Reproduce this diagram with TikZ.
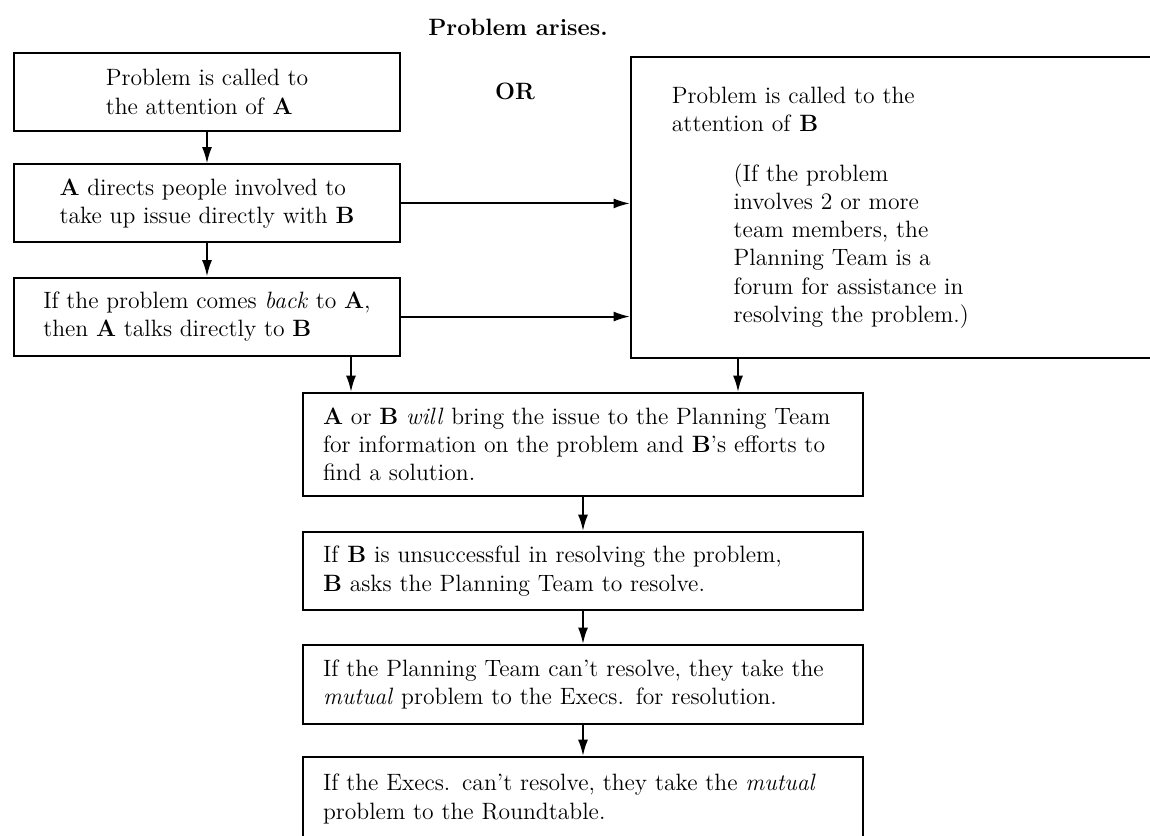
\documentclass[tikz,border=0pt]{standalone}
\usetikzlibrary{arrows.meta}

\begin{document}
\begin{tikzpicture}[x=0.55pt, y=-0.55pt, line width=1.1pt,
    >={Latex[length=9pt, width=5.5pt]},
    font=\fontsize{13}{15.5}\selectfont,
    leftbox/.style={draw, rectangle, align=left, minimum width=212.3pt, minimum height=42.9pt, inner sep=0pt},
    lowbox/.style={draw, rectangle, align=left, text width=286pt, inner xsep=11pt, minimum width=308pt}]

    \useasboundingbox (0,0) rectangle (1150,836);
    \clip (0,0) rectangle (1150,836);

    % Nodes
    \node at (518,27) (title) {\textbf{Problem arises.}};
    \node at (515,91) (or) {\textbf{OR}};
    \node [leftbox] at (207,92) (pa) {Problem is called to\\the attention of \textbf{A}};
    \node [leftbox, below of=pa, node distance=61.3pt] (adir) {\textbf{A} directs people involved to\\take up issue directly with \textbf{B}};
    \node [leftbox, below of=adir, node distance=62.2pt] (aback) {If the problem comes \textit{back} to \textbf{A},\\then \textbf{A} talks directly to \textbf{B}};
    \node [draw, rectangle, align=left, anchor=north west, text width=252pt, inner xsep=22.5pt,
        minimum width=297pt, minimum height=165.55pt] at (630,56) (pb)
        {Problem is called to the\\attention of \textbf{B}\\[12pt]
         \hspace*{34pt}(If the problem\\
         \hspace*{34pt}involves 2 or more\\
         \hspace*{34pt}team members, the\\
         \hspace*{34pt}Planning Team is a\\
         \hspace*{34pt}forum for assistance in\\
         \hspace*{34pt}resolving the problem.)};
    \node [lowbox, minimum height=56.65pt] at (583,444.5) (bring) {\textbf{A} or \textbf{B} \textit{will} bring the issue to the Planning Team\\for information on the problem and \textbf{B}'s efforts to\\find a solution.};
    \node [lowbox, minimum height=42.9pt, below of=bring, node distance=69.6pt] (unsucc) {If \textbf{B} is unsuccessful in resolving the problem,\\\textbf{B} asks the Planning Team to resolve.};
    \node [lowbox, minimum height=43.45pt, below of=unsucc, node distance=62.4pt] (ptcant) {If the Planning Team can't resolve, they take the\\\textit{mutual} problem to the Execs. for resolution.};
    \node [lowbox, minimum height=46.2pt, below of=ptcant, node distance=63pt] (execs) {If the Execs. can't resolve, they take the \textit{mutual}\\problem to the Roundtable.};

    \coordinate (abackdrop) at ([xshift=-27.5pt]aback.south east);
    \coordinate (pbdrop) at ([xshift=59.4pt]pb.south west);

    % Arrows
    \draw[->] (pa) -- (adir);
    \draw[->] (adir) -- (aback);
    \draw[->] (adir.east) -- (adir.east -| pb.west);
    \draw[->] (aback.east) -- (aback.east -| pb.west);
    \draw[->] (abackdrop) -- (abackdrop |- bring.north);
    \draw[->] (pbdrop) -- (pbdrop |- bring.north);
    \draw[->] (bring) -- (unsucc);
    \draw[->] (unsucc) -- (ptcant);
    \draw[->] (ptcant) -- (execs);

\end{tikzpicture}
\end{document}
